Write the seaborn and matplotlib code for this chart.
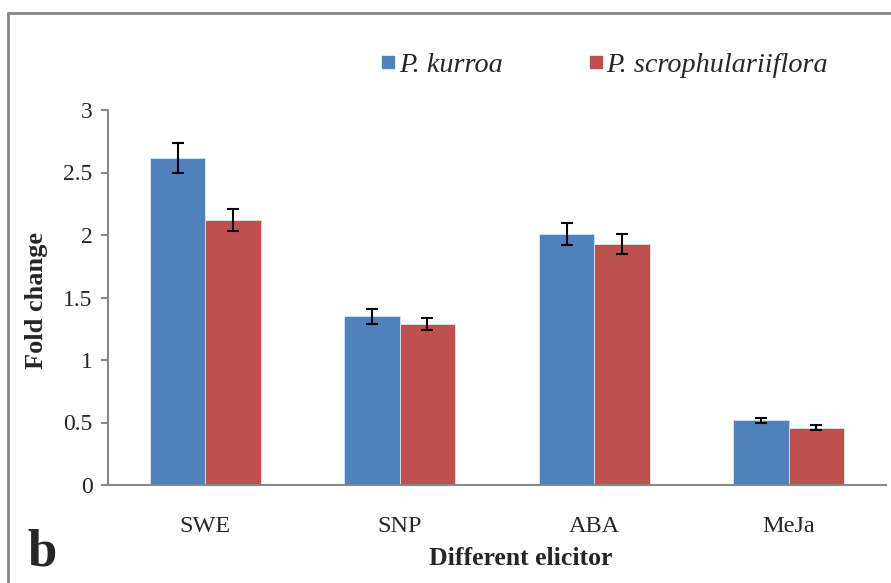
import pandas as pd
import numpy as np
from matplotlib import pyplot as plt
from matplotlib.lines import Line2D
import seaborn as sns

elicitors = ["SWE", "SNP", "ABA", "MeJa"]
species = ["P. kurroa", "P. scrophulariiflora"]
kurroa = [2.62, 1.35, 2.01, 0.52]
kurroa_err = [0.12, 0.06, 0.09, 0.02]
scroph = [2.12, 1.29, 1.93, 0.46]
scroph_err = [0.09, 0.05, 0.08, 0.02]

df = pd.DataFrame({
    "Elicitor": elicitors * 2,
    "Species": [species[0]] * 4 + [species[1]] * 4,
    "Fold": kurroa + scroph,
    "Err": kurroa_err + scroph_err,
})

sns.set_style("white")
plt.rcParams['font.family'] = ['Liberation Serif', 'DejaVu Serif']

fig = plt.figure(figsize=(8.91, 5.83), dpi=100)
ax = fig.add_axes([108 / 891, 98 / 583, 778 / 891, 375 / 583])

palette = {species[0]: "#4F81BD", species[1]: "#C0504D"}
sns.barplot(data=df, x="Elicitor", y="Fold", hue="Species", order=elicitors,
            hue_order=species, palette=palette, width=0.57, gap=0,
            saturation=1, errorbar=None, edgecolor="#dde6f0", linewidth=0.6,
            legend=False, ax=ax)

# error bars at bar centres
for i, sp in enumerate(species):
    sub = df[df["Species"] == sp].set_index("Elicitor").loc[elicitors]
    bars = ax.containers[i]
    xs = [b.get_x() + b.get_width() / 2 for b in bars]
    ax.errorbar(xs, sub["Fold"], yerr=sub["Err"], fmt="none", ecolor="black",
                elinewidth=1.5, capsize=4.5, capthick=1.5, zorder=5)

ax.set_xlim(-0.5, 3.5)
ax.set_ylim(0, 3)
ax.set_yticks(np.arange(0, 3.01, 0.5))
ax.set_yticklabels(["0", "0.5", "1", "1.5", "2", "2.5", "3"])
ax.set_xticks(range(4))
ax.set_xticks(np.arange(-0.5, 3.6, 1), minor=True)
ax.tick_params(axis="x", which="major", length=0, pad=22, labelsize=17.5)
ax.tick_params(axis="x", which="minor", length=5, width=1.5, color="#888888")
ax.tick_params(axis="y", length=5, width=1.5, color="#888888", labelsize=17, pad=6, left=True)

for s in ["top", "right"]:
    ax.spines[s].set_visible(False)
for s in ["left", "bottom"]:
    ax.spines[s].set_color("#888888")
    ax.spines[s].set_linewidth(1.5)

ax.set_xlabel("Different elicitor", fontsize=18.5, fontweight="bold")
ax.set_ylabel("Fold change", fontsize=19, fontweight="bold")
ax.xaxis.set_label_coords(0.531, -0.165)
ax.yaxis.set_label_coords(-0.077, 0.493)

handles = [Line2D([], [], marker="s", ls="none", markersize=8.5,
                  markerfacecolor=palette[s], markeredgecolor=palette[s]) for s in species]
ax.legend(handles, species, loc="center", bbox_to_anchor=(0.6375, 1.12), ncol=2,
          frameon=False, prop={"style": "italic", "size": 20.3}, handletextpad=0.08,
          columnspacing=3.0, handlelength=0.6)

fig.text(27 / 891, 1 - 553 / 583, "b", fontsize=38, fontweight="bold", va="center", ha="left")

# outer frame
fig.add_artist(Line2D([8 / 891, 8 / 891], [0, 1 - 13 / 583], transform=fig.transFigure,
                      color="#888888", lw=2))
fig.add_artist(Line2D([8 / 891, 1], [1 - 13 / 583, 1 - 13 / 583], transform=fig.transFigure,
                      color="#888888", lw=2))

fig.savefig("out.png", dpi=100)
